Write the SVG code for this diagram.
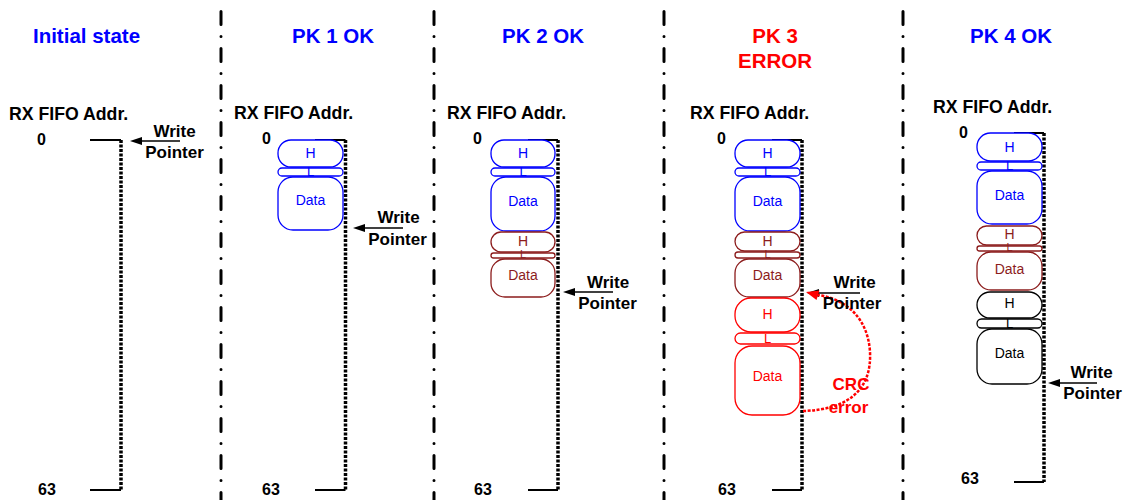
<svg xmlns="http://www.w3.org/2000/svg" width="1127" height="500" viewBox="0 0 1127 500">
<style>
.sep{stroke:#000;stroke-width:3;stroke-dasharray:13 12 0 12;stroke-linecap:round;fill:none}
.dot{stroke:#000;stroke-width:3.5;stroke-dasharray:3 1.5;fill:none}
.rule{stroke:#000;stroke-width:2;fill:none}
.title{font-family:"Liberation Sans",Arial,sans-serif;font-weight:bold;font-size:20.5px;text-anchor:middle}
.lbl{font-family:"Liberation Sans",Arial,sans-serif;font-weight:bold;font-size:17.7px}
.wp{font-family:"Liberation Sans",Arial,sans-serif;font-weight:bold;font-size:17px;text-anchor:middle;fill:#000}
.num{font-family:"Liberation Sans",Arial,sans-serif;font-weight:bold;font-size:16px}
.bx{fill:#fff;stroke-width:1.3}
.bt{font-family:"Liberation Sans",Arial,sans-serif;font-size:14px;text-anchor:middle}
.lt{font-family:"Liberation Sans",Arial,sans-serif;font-size:13px;text-anchor:middle}
.ls{font-family:"Liberation Sans",Arial,sans-serif;font-size:11px;text-anchor:middle}
.blue rect{stroke:#0000FF}.blue text{fill:#0000FF}
.dred rect{stroke:#8C1C1C}.dred text{fill:#8C1C1C}
.red rect{stroke:#FF0000}.red text{fill:#FF0000}
.blk rect{stroke:#000}.blk text{fill:#000}
.ptr{stroke:#000;stroke-width:1.5}
</style>

<g id="separators">
<line class="sep" x1="221" y1="11.5" x2="221" y2="500"/>
<line class="sep" x1="434" y1="11.5" x2="434" y2="500"/>
<line class="sep" x1="664" y1="11.5" x2="664" y2="500"/>
<line class="sep" x1="903" y1="11.5" x2="903" y2="500"/>
</g>

<g id="titles">
<text class="title" x="86.5" y="43" fill="#0000FF">Initial state</text>
<text class="title" x="333" y="43" fill="#0000FF">PK 1 OK</text>
<text class="title" x="543" y="43" fill="#0000FF">PK 2 OK</text>
<text class="title" x="775" y="43" fill="#FF0000">PK 3</text>
<text class="title" x="775" y="68" fill="#FF0000">ERROR</text>
<text class="title" x="1011" y="43" fill="#0000FF">PK 4 OK</text>
</g>

<!-- FIFO columns -->
<g id="fifo1">
<text class="lbl" x="9" y="120">RX FIFO Addr.</text>
<text class="num" x="37" y="145">0</text>
<text class="num" x="38" y="495">63</text>
<line class="rule" x1="90" y1="140" x2="121" y2="140"/>
<line class="rule" x1="90" y1="490" x2="121" y2="490"/>
<line class="dot" x1="121" y1="140" x2="121" y2="490"/>
</g>
<g id="fifo2">
<text class="lbl" x="234" y="119">RX FIFO Addr.</text>
<text class="num" x="262" y="144">0</text>
<text class="num" x="262" y="495">63</text>
<line class="rule" x1="315" y1="140" x2="345.5" y2="140"/>
<line class="rule" x1="315" y1="490" x2="345.5" y2="490"/>
<line class="dot" x1="345.5" y1="140" x2="345.5" y2="490"/>
</g>
<g id="fifo3">
<text class="lbl" x="447" y="119">RX FIFO Addr.</text>
<text class="num" x="473" y="144">0</text>
<text class="num" x="474" y="495">63</text>
<line class="rule" x1="528" y1="140" x2="558" y2="140"/>
<line class="rule" x1="528" y1="490" x2="558" y2="490"/>
<line class="dot" x1="558" y1="140" x2="558" y2="490"/>
</g>
<g id="fifo4">
<text class="lbl" x="690" y="119">RX FIFO Addr.</text>
<text class="num" x="717" y="144">0</text>
<text class="num" x="718" y="495">63</text>
<line class="rule" x1="772" y1="140" x2="802" y2="140"/>
<line class="rule" x1="772" y1="490" x2="802" y2="490"/>
<line class="dot" x1="802" y1="140" x2="802" y2="490"/>
</g>
<g id="fifo5">
<text class="lbl" x="933" y="113">RX FIFO Addr.</text>
<text class="num" x="959" y="138">0</text>
<text class="num" x="961" y="484">63</text>
<line class="rule" x1="1014" y1="133" x2="1044" y2="133"/>
<line class="rule" x1="1014" y1="482" x2="1044" y2="482"/>
<line class="dot" x1="1044" y1="133" x2="1044" y2="482"/>
</g>

<!-- Panel 2 packets -->
<g id="p2-pk1" class="blue">
<rect class="bx" x="278" y="140" width="65" height="27" rx="13"/>
<rect class="bx" x="278" y="168" width="65" height="8" rx="4"/>
<rect class="bx" x="278" y="177" width="65" height="53" rx="15"/>
<text class="bt" x="310.5" y="158">H</text>
<text class="lt" x="310.5" y="176">L</text>
<text class="bt" x="310.5" y="205">Data</text>
</g>

<!-- Panel 3 packets -->
<g id="p3-pk1" class="blue">
<rect class="bx" x="491" y="140" width="64" height="27" rx="13"/>
<rect class="bx" x="491" y="168" width="64" height="8" rx="4"/>
<rect class="bx" x="491" y="177" width="64" height="54" rx="15"/>
<text class="bt" x="523" y="158">H</text>
<text class="lt" x="523" y="176">L</text>
<text class="bt" x="523" y="206">Data</text>
</g>
<g id="p3-pk2" class="dred">
<rect class="bx" x="491" y="232" width="64" height="20" rx="10"/>
<rect class="bx" x="491" y="253" width="64" height="5" rx="2.5"/>
<rect class="bx" x="491" y="259" width="64" height="38" rx="14"/>
<text class="bt" x="523" y="246">H</text>
<text class="ls" x="523" y="258">L</text>
<text class="bt" x="523" y="280">Data</text>
</g>

<!-- Panel 4 packets -->
<g id="p4-pk1" class="blue">
<rect class="bx" x="735" y="140" width="65" height="27" rx="13"/>
<rect class="bx" x="735" y="168" width="65" height="8" rx="4"/>
<rect class="bx" x="735" y="177" width="65" height="54" rx="15"/>
<text class="bt" x="767.5" y="158">H</text>
<text class="lt" x="767.5" y="176">L</text>
<text class="bt" x="767.5" y="206">Data</text>
</g>
<g id="p4-pk2" class="dred">
<rect class="bx" x="735" y="232" width="65" height="19" rx="9.5"/>
<rect class="bx" x="735" y="252" width="65" height="6" rx="3"/>
<rect class="bx" x="735" y="259" width="65" height="38" rx="14"/>
<text class="bt" x="767.5" y="246">H</text>
<text class="ls" x="767.5" y="258">L</text>
<text class="bt" x="767.5" y="280">Data</text>
</g>
<g id="p4-pk3" class="red">
<rect class="bx" x="735" y="298" width="65" height="34" rx="16"/>
<rect class="bx" x="735" y="333" width="65" height="11" rx="5.5"/>
<rect class="bx" x="735" y="346" width="65" height="69" rx="17"/>
<text class="bt" x="767.5" y="319">H</text>
<text class="lt" x="767.5" y="343">L</text>
<text class="bt" x="767.5" y="381">Data</text>
</g>

<!-- Panel 5 packets -->
<g id="p5-pk1" class="blue">
<rect class="bx" x="977" y="133" width="65" height="28" rx="13.5"/>
<rect class="bx" x="977" y="162" width="65" height="8" rx="4"/>
<rect class="bx" x="977" y="171" width="65" height="53" rx="15"/>
<text class="bt" x="1009.5" y="152">H</text>
<text class="lt" x="1009.5" y="170">L</text>
<text class="bt" x="1009.5" y="200">Data</text>
</g>
<g id="p5-pk2" class="dred">
<rect class="bx" x="977" y="226" width="65" height="19" rx="9.5"/>
<rect class="bx" x="977" y="246" width="65" height="5" rx="2.5"/>
<rect class="bx" x="977" y="252" width="65" height="38" rx="14"/>
<text class="bt" x="1009.5" y="239">H</text>
<text class="ls" x="1009.5" y="251">L</text>
<text class="bt" x="1009.5" y="274">Data</text>
</g>
<g id="p5-pk4" class="blk">
<rect class="bx" x="977" y="292" width="65" height="26" rx="13"/>
<rect class="bx" x="977" y="319" width="65" height="9" rx="4.5"/>
<rect class="bx" x="977" y="329" width="65" height="55" rx="15"/>
<text class="bt" x="1009.5" y="308">H</text>
<text class="lt" x="1009.5" y="328">L</text>
<text class="bt" x="1009.5" y="358">Data</text>
</g>

<!-- Write pointers -->
<g id="connectors">
<g id="wp1">
<line class="ptr" x1="140" y1="141" x2="180" y2="141"/>
<polygon points="130,141 142,137 142,145" fill="#000"/>
</g>
<g id="wp2">
<line class="ptr" x1="363" y1="228" x2="403" y2="228"/>
<polygon points="353,228 365,224 365,232" fill="#000"/>
</g>
<g id="wp3">
<line class="ptr" x1="573" y1="292" x2="613" y2="292"/>
<polygon points="563,292 575,288 575,296" fill="#000"/>
</g>
<g id="wp4">
<line class="ptr" x1="817" y1="293" x2="860" y2="293"/>
<polygon points="807,293 819,289 819,297" fill="#000"/>
</g>
<g id="wp5">
<line class="ptr" x1="1058" y1="383" x2="1097" y2="383"/>
<polygon points="1048,383 1060,379 1060,387" fill="#000"/>
</g>
<g id="crc-arrow">
<path d="M 803 411 C 845 410 872 392 870 352 C 868 318 846 299 818 295" fill="none" stroke="#FF0000" stroke-width="2.5" stroke-dasharray="3 1.5"/>
<polygon points="806,292 819.5,290.5 816.5,300" fill="#FF0000"/>
</g>
</g>

<g id="wp-labels">
<text class="wp" x="174.5" y="137">Write</text>
<text class="wp" x="174.5" y="158">Pointer</text>
<text class="wp" x="398.5" y="223">Write</text>
<text class="wp" x="397.5" y="245">Pointer</text>
<text class="wp" x="608" y="288">Write</text>
<text class="wp" x="607.5" y="309">Pointer</text>
<text class="wp" x="854.5" y="288">Write</text>
<text class="wp" x="852" y="309">Pointer</text>
<text class="wp" x="1091.5" y="378">Write</text>
<text class="wp" x="1092.5" y="399">Pointer</text>
</g>

<g id="crc-label">
<text class="wp" x="851" y="390" style="fill:#FF0000">CRC</text>
<text class="wp" x="848.5" y="413" style="fill:#FF0000">error</text>
</g>
</svg>
